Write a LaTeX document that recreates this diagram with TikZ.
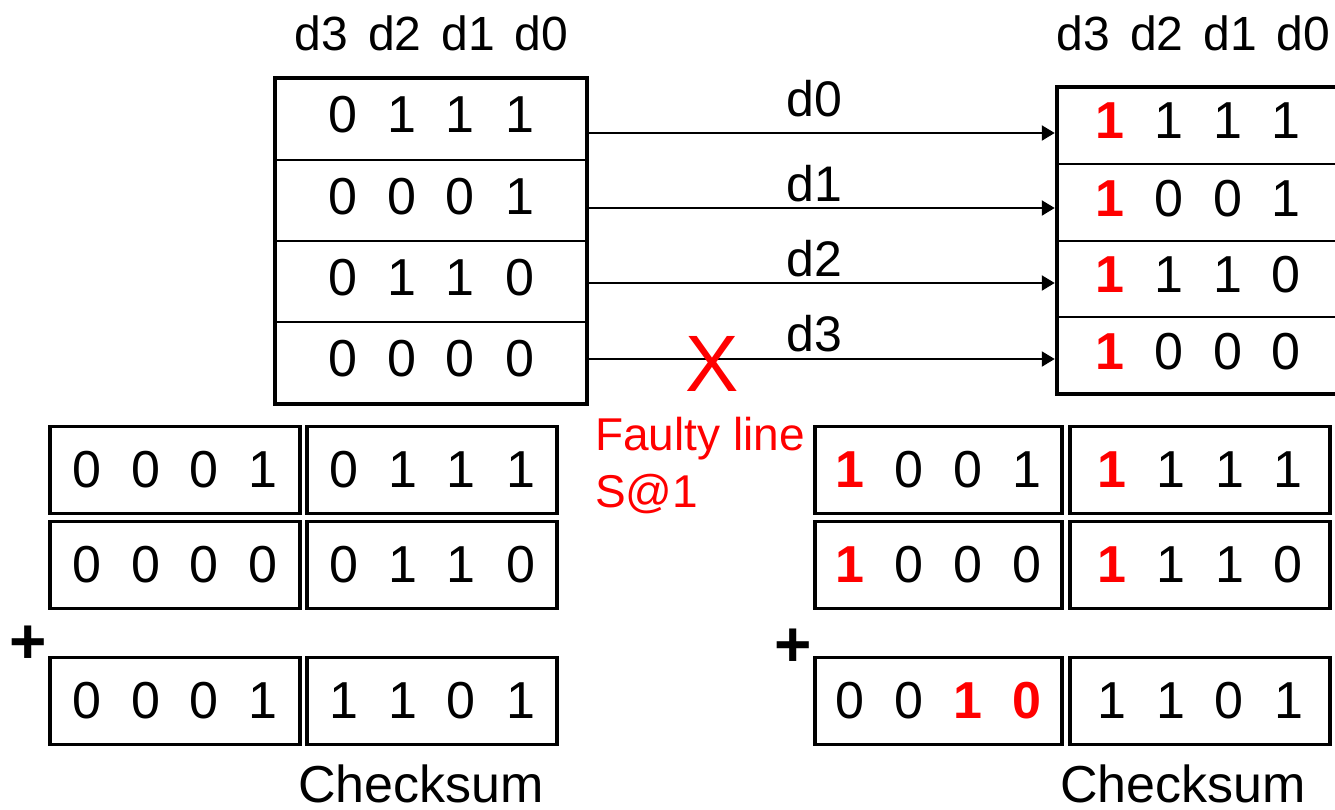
\documentclass[tikz,border=0pt]{standalone}
\usepackage{fontspec}
\setmainfont{Liberation Sans}
\usetikzlibrary{arrows.meta}

% one bit per fixed-width cell, so the columns line up
\newcommand{\bitcell}[1]{\makebox[59pt]{#1}}
\newcommand{\bits}[4]{\bitcell{#1}\bitcell{#2}\bitcell{#3}\bitcell{#4}}
% a bit changed by the stuck-at fault
\newcommand{\flip}[1]{\textcolor{red}{\bfseries #1}}

\begin{document}
\begin{tikzpicture}[x=1pt,y=-1pt,
  digits/.style={inner sep=0pt,font=\fontsize{52}{60}\selectfont},
  headtext/.style={inner sep=0pt,font=\fontsize{48}{56}\selectfont},
  regbox/.style={draw,line width=4.5pt,inner sep=0pt},
  sumbox/.style={draw,line width=3.5pt,inner sep=0pt,minimum height=87pt,
                 font=\fontsize{52}{60}\selectfont},
  divider/.style={line width=2pt},
  wire/.style={line width=2.2pt,-{Triangle[length=13pt,width=15pt]}},
  wirelabel/.style={inner sep=0pt,font=\fontsize{50}{56}\selectfont},
  plussign/.style={inner sep=0pt,font=\fontsize{64}{64}\bfseries\selectfont},
  caption/.style={inner sep=0pt,font=\fontsize{52}{60}\selectfont}
]
\useasboundingbox (0,0) rectangle (1335,809);

% ---- sending memory ----
\node[headtext,anchor=base] (hL) at (431.5,50)
  {d3\hspace{20pt}d2\hspace{20pt}d1\hspace{20pt}d0};
\node[regbox,minimum width=312pt,minimum height=326pt] (L) at (431,241) {};
\draw[divider] (275,160) -- (587,160);
\draw[divider] (275,241) -- (587,241);
\draw[divider] (275,322) -- (587,322);
\node[digits] (l0) at (431,115) {\bits{0}{1}{1}{1}};
\node[digits] (l1) at (431,197) {\bits{0}{0}{0}{1}};
\node[digits] (l2) at (431,278) {\bits{0}{1}{1}{0}};
\node[digits] (l3) at (431,359) {\bits{0}{0}{0}{0}};

% ---- receiving memory ----
\node[headtext,anchor=base] (hR) at (1193.5,50)
  {d3\hspace{20pt}d2\hspace{20pt}d1\hspace{20pt}d0};
\node[regbox,minimum width=312pt,minimum height=307pt] (R) at (1213,240.5) {};
\draw[divider] (1057,164) -- (1369,164);
\draw[divider] (1057,241) -- (1369,241);
\draw[divider] (1057,317) -- (1369,317);
\node[digits] (r0) at (1198,121) {\bits{\flip{1}}{1}{1}{1}};
\node[digits] (r1) at (1198,199) {\bits{\flip{1}}{0}{0}{1}};
\node[digits] (r2) at (1198,275) {\bits{\flip{1}}{1}{1}{0}};
\node[digits] (r3) at (1198,352) {\bits{\flip{1}}{0}{0}{0}};

% ---- data lines ----
\coordinate (y0) at (0,133);
\coordinate (y1) at (0,208);
\coordinate (y2) at (0,283);
\coordinate (y3) at (0,359);
\draw[wire] (L.east |- y0) -- (R.west |- y0)
  node[wirelabel,pos=0.484,above=15pt] (w0) {d0};
\draw[wire] (L.east |- y1) -- (R.west |- y1)
  node[wirelabel,pos=0.484,above=5pt] (w1) {d1};
\draw[wire] (L.east |- y2) -- (R.west |- y2)
  node[wirelabel,pos=0.484,above=5pt] (w2) {d2};
\draw[wire] (L.east |- y3) -- (R.west |- y3)
  node[wirelabel,pos=0.484,above=6pt] (w3) {d3};

% ---- the stuck-at-1 fault on d3 ----
\node[text=red,inner sep=0pt,font=\fontsize{80}{80}\selectfont] (fault) at (712,364) {X};
\node[text=red,inner sep=0pt,anchor=north west,align=left,
      font=\fontsize{46}{57}\selectfont] (faultnote) at (595,417) {Faulty line\\S@1};

% ---- checksum of the sent words ----
\node[sumbox,minimum width=250pt] (a1) at (175,470) {\bits{0}{0}{0}{1}};
\node[sumbox,minimum width=250pt] (b1) at (432,470) {\bits{0}{1}{1}{1}};
\node[sumbox,minimum width=250pt] (a2) at (175,565) {\bits{0}{0}{0}{0}};
\node[sumbox,minimum width=250pt] (b2) at (432,565) {\bits{0}{1}{1}{0}};
\node[plussign] (pL) at (28,645) {+};
\node[sumbox,minimum width=250pt] (a3) at (175,701) {\bits{0}{0}{0}{1}};
\node[sumbox,minimum width=250pt] (b3) at (432,701) {\bits{1}{1}{0}{1}};
\node[caption,anchor=base west] (csL) at (298,802) {Checksum};

% ---- checksum of the received words ----
\node[sumbox,minimum width=247pt] (c1) at (938.5,470) {\bits{\flip{1}}{0}{0}{1}};
\node[sumbox,minimum width=260pt] (e1) at (1200,470) {\bits{\flip{1}}{1}{1}{1}};
\node[sumbox,minimum width=247pt] (c2) at (938.5,565) {\bits{\flip{1}}{0}{0}{0}};
\node[sumbox,minimum width=260pt] (e2) at (1200,565) {\bits{\flip{1}}{1}{1}{0}};
\node[plussign] (pR) at (793,648) {+};
\node[sumbox,minimum width=247pt] (c3) at (938.5,701) {\bits{0}{0}{\flip{1}}{\flip{0}}};
\node[sumbox,minimum width=260pt] (e3) at (1200,701) {\bits{1}{1}{0}{1}};
\node[caption,anchor=base west] (csR) at (1060,802) {Checksum};
\end{tikzpicture}
\end{document}
